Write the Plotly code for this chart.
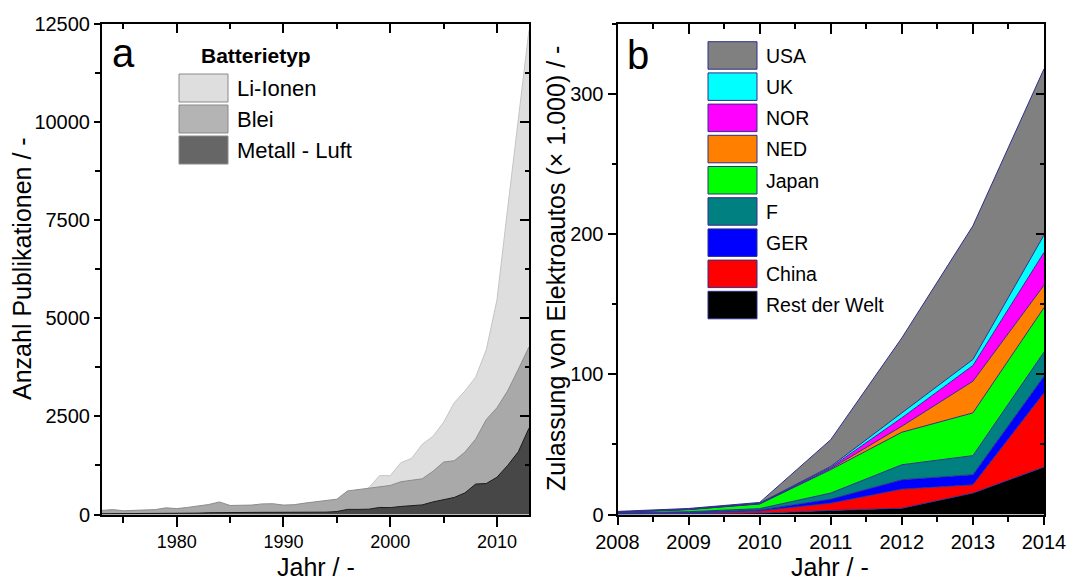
import plotly.graph_objects as go

FIG_W, FIG_H = 1071, 581
FONT = "Liberation Sans, Arial, sans-serif"

# ---------------- data: panel a ----------------
years_a = list(range(1973, 2014))
li_ionen = [60, 70, 60, 60, 70, 70, 80, 80, 90, 90, 100, 110, 110, 110, 120, 120, 130, 130,
            140, 160, 180, 220, 280, 420, 560, 680, 990, 990, 1320, 1430, 1790, 1990, 2350,
            2850, 3150, 3500, 4200, 5470, 7800, 10050, 12350]
blei = [105, 125, 95, 105, 115, 125, 170, 150, 180, 215, 255, 320, 230, 235, 240, 270, 275,
        240, 250, 290, 320, 350, 390, 600, 635, 655, 690, 740, 835, 877, 910, 1100, 1335,
        1370, 1590, 1920, 2420, 2720, 3150, 3700, 4270]
metall_luft = [20, 20, 20, 20, 25, 25, 25, 30, 30, 35, 45, 50, 50, 50, 50, 55, 55, 55, 55,
               60, 60, 60, 75, 130, 130, 135, 180, 175, 205, 225, 245, 320, 385, 435, 550,
               775, 790, 950, 1250, 1600, 2200]
names_a = ["Li-Ionen", "Blei", "Metall - Luft"]
fill_a = ["#dedede", "#a9a9a9", "#474747"]
line_a = ["#c4c4c4", "#8c8c8c", "#1a1a1a"]
legend_fill_a = ["#dedede", "#b4b4b4", "#666666"]
legend_title_a = "Batterietyp"

# ---------------- data: panel b ----------------
years_b = [2008, 2009, 2010, 2011, 2012, 2013, 2014]
rest_der_welt = [0.3, 0.5, 1.0, 2.9, 4.5, 15.3, 33.9]
china = [0.3, 0.7, 1.5, 5.2, 13.6, 5.9, 52.9]
ger = [0.3, 0.4, 0.7, 2.9, 6.7, 7.2, 11.9]
f_fr = [0.2, 0.4, 1.0, 4.3, 10.7, 13.6, 17.2]
japan = [0.4, 1.5, 3.3, 16.7, 23.2, 30.5, 31.7]
ned = [0.1, 0.1, 0.2, 0.7, 4.3, 22.6, 16.0]
nor = [0.1, 0.1, 0.2, 0.9, 6.0, 11.2, 23.4]
uk = [0.1, 0.1, 0.2, 0.7, 3.5, 4.3, 12.4]
usa = [0.4, 0.5, 0.5, 19.1, 53.5, 95.4, 118.6]
names_b = ["Rest der Welt", "China", "GER", "F", "Japan", "NED", "NOR", "UK", "USA"]
values_b = [rest_der_welt, china, ger, f_fr, japan, ned, nor, uk, usa]
colors_b = ["#000000", "#ff0000", "#0000ff", "#008080", "#00ff00", "#ff8000", "#ff00ff",
            "#00ffff", "#808080"]
OUTLINE_B = "#2e2e8c"


def px(x):
    return x / FIG_W


def py(y):
    return 1 - y / FIG_H


# plot-area geometry (pixels)
AX_L, AX_R = 102, 529
BX_L, BX_R = 617.5, 1044
P_T, P_B = 24, 514.5

fig = go.Figure()

for name, vals, fc, lc in zip(names_a, [li_ionen, blei, metall_luft], fill_a, line_a):
    fig.add_trace(go.Scatter(x=years_a, y=vals, name=name, mode="lines", fill="tozeroy",
                             fillcolor=fc, line=dict(color=lc, width=1),
                             xaxis="x", yaxis="y", showlegend=False, hoverinfo="skip"))

for name, vals, c in zip(names_b, values_b, colors_b):
    fig.add_trace(go.Scatter(x=years_b, y=vals, name=name, mode="lines", stackgroup="one",
                             fillcolor=c, line=dict(color=OUTLINE_B, width=1),
                             xaxis="x2", yaxis="y2", showlegend=False, hoverinfo="skip"))

# invisible helper traces so that the mirrored (inside-tick) axes are drawn
for xa, ya, xv, yv in [("x3", "y", years_a[0], 0), ("x", "y3", years_a[0], 0),
                       ("x4", "y2", years_b[0], 0), ("x2", "y4", years_b[0], 0)]:
    fig.add_trace(go.Scatter(x=[xv], y=[yv], xaxis=xa, yaxis=ya, mode="markers",
                             marker=dict(opacity=0, size=1), showlegend=False,
                             hoverinfo="skip"))

tickfont = dict(family=FONT, size=20, color="#000")
common = dict(showline=True, linecolor="#000", linewidth=2, showgrid=False, zeroline=False,
              tickcolor="#000", tickwidth=1.5, tickfont=tickfont, automargin=False)

dom_y = [py(P_B), py(P_T)]
dom_a = [px(AX_L), px(AX_R)]
dom_b = [px(BX_L), px(BX_R)]

common_xa = dict(common)
common_xa["tickfont"] = dict(family=FONT, size=18, color="#000")

fig.update_layout(
    width=FIG_W, height=FIG_H, margin=dict(l=0, r=0, t=0, b=0, autoexpand=False),
    paper_bgcolor="white", plot_bgcolor="white", showlegend=False,
    xaxis=dict(domain=dom_a, range=[1973, 2013], tick0=1980, dtick=10, ticks="outside",
               ticklen=10, minor=dict(ticks="outside", ticklen=6, dtick=5, tick0=1975,
                                      tickcolor="#000"),
               anchor="y", mirror=True, **common_xa),
    yaxis=dict(domain=dom_y, range=[0, 12500], dtick=2500, ticks="outside", ticklen=6,
               tickformat="d",
               minor=dict(ticks="outside", ticklen=5, dtick=1250, tickcolor="#000"),
               anchor="x", mirror=True, **common),
    xaxis3=dict(overlaying="x", side="top", anchor="y", range=[1973, 2013], tick0=1980,
                dtick=10, ticks="inside", ticklen=9, showticklabels=False,
                minor=dict(ticks="inside", ticklen=5, dtick=5, tick0=1975, tickcolor="#000"),
                **common),
    yaxis3=dict(overlaying="y", side="right", anchor="x", range=[0, 12500], dtick=2500,
                ticks="inside", ticklen=9, showticklabels=False,
                minor=dict(ticks="inside", ticklen=4, dtick=1250, tickcolor="#000"), **common),
    xaxis2=dict(domain=dom_b, range=[2008, 2014], dtick=1, ticks="outside", ticklen=8,
                minor=dict(ticks="outside", ticklen=5, dtick=0.5, tickcolor="#000"),
                anchor="y2", mirror=True, **common),
    yaxis2=dict(domain=dom_y, range=[0, 350], dtick=100, ticks="outside", ticklen=8,
                minor=dict(ticks="outside", ticklen=4, dtick=50, tickcolor="#000"),
                anchor="x2", mirror=True, **common),
    xaxis4=dict(overlaying="x2", side="top", anchor="y2", range=[2008, 2014], dtick=1,
                ticks="inside", ticklen=10, showticklabels=False,
                minor=dict(ticks="inside", ticklen=5, dtick=0.5, tickcolor="#000"), **common),
    yaxis4=dict(overlaying="y2", side="right", anchor="x2", range=[0, 350], dtick=100,
                ticks="inside", ticklen=8, showticklabels=False,
                minor=dict(ticks="inside", ticklen=4, dtick=50, tickcolor="#000"), **common),
)

annotations = []
shapes = []


def text(x, y, s, size, angle=0, bold=False, xanchor="center"):
    annotations.append(dict(x=px(x), y=py(y), xref="paper", yref="paper", text=s,
                            showarrow=False, textangle=angle, xanchor=xanchor,
                            yanchor="middle",
                            font=dict(family=FONT, size=size, color="#000",
                                      weight="bold" if bold else "normal")))


# axis titles
text(22, 269, "Anzahl Publikationen / -", 25, angle=-90)
text(316, 567, "Jahr / -", 25)
text(556, 269, "Zulassung von Elektroautos (× 1.000) / -", 25, angle=-90)
text(830, 567, "Jahr / -", 25)

# panel letters
text(123, 53, "a", 40)
text(638, 55, "b", 40)

# legend a
text(256, 56, legend_title_a, 21, bold=True)
row_tops_a = [74, 105, 136]
for name, fc, top in zip(names_a, legend_fill_a, row_tops_a):
    shapes.append(dict(type="rect", xref="paper", yref="paper", x0=px(179), x1=px(228),
                       y0=py(top + 28), y1=py(top), fillcolor=fc,
                       line=dict(color="#8a8a8a", width=1)))
    text(235, top + 14, name, 22, xanchor="left")

# legend b (top-down order USA ... Rest der Welt)
for i, (name, c) in enumerate(zip(names_b[::-1], colors_b[::-1])):
    top = 41.7 + i * 31.2
    shapes.append(dict(type="rect", xref="paper", yref="paper", x0=px(708), x1=px(757),
                       y0=py(top + 27.5), y1=py(top), fillcolor=c,
                       line=dict(color=OUTLINE_B, width=1)))
    text(764, top + 14, name, 19.5, xanchor="left")

fig.update_layout(annotations=annotations, shapes=shapes)
fig.write_html("out.html")
